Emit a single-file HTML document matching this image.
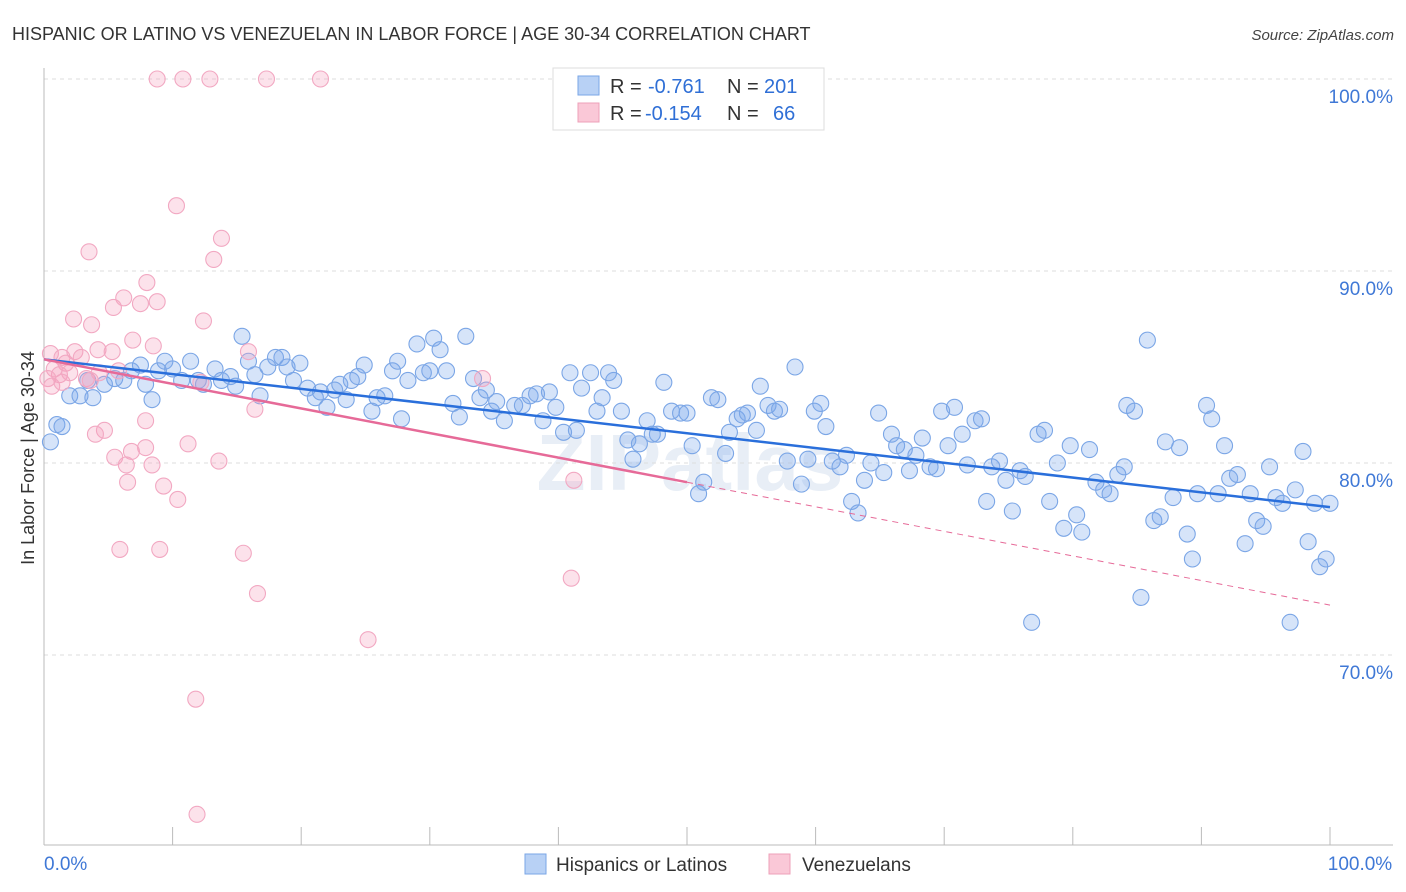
<!DOCTYPE html>
<html><head><meta charset="utf-8"><style>
body{margin:0;background:#fff;font-family:"Liberation Sans",sans-serif;}
svg{display:block}
</style></head><body>
<svg id="chart" width="1406" height="892" xmlns="http://www.w3.org/2000/svg">
<text x="12" y="40" font-size="18" fill="#333">HISPANIC OR LATINO VS VENEZUELAN IN LABOR FORCE | AGE 30-34 CORRELATION CHART</text>
<text x="1394" y="40" font-size="15" fill="#444" text-anchor="end" font-style="italic">Source: ZipAtlas.com</text>
<text transform="translate(34,458) rotate(-90)" font-size="18" fill="#333" text-anchor="middle">In Labor Force | Age 30-34</text>
<text x="690" y="490" font-size="80" fill="#e8eef6" text-anchor="middle" font-weight="bold">ZIPatlas</text>
<g id="grid"></g><g id="axes"></g><g id="pts"></g><g id="trends"></g>
<g>
<rect x="553" y="68" width="271" height="62" fill="#fff" stroke="#ddd"/>
<rect x="578" y="76" width="21" height="19" fill="#b8d1f5" stroke="#7aa6e6"/>
<rect x="578" y="103" width="21" height="19" fill="#fac8d7" stroke="#eea0b8"/>
<text x="610" y="93" font-size="20" fill="#333">R =</text>
<text x="648" y="93" font-size="20" fill="#2f6fd6">-0.761</text>
<text x="727" y="93" font-size="20" fill="#333">N =</text>
<text x="764" y="93" font-size="20" fill="#2f6fd6">201</text>
<text x="610" y="120" font-size="20" fill="#333">R =</text>
<text x="645" y="120" font-size="20" fill="#2f6fd6">-0.154</text>
<text x="727" y="120" font-size="20" fill="#333">N =</text>
<text x="773" y="120" font-size="20" fill="#2f6fd6">66</text>
</g>
<g>
<rect x="525" y="854" width="21" height="20" fill="#b8d1f5" stroke="#7aa6e6"/>
<text x="556" y="871" font-size="19" fill="#333">Hispanics or Latinos</text>
<rect x="769" y="854" width="21" height="20" fill="#fac8d7" stroke="#eea0b8"/>
<text x="802" y="871" font-size="19" fill="#333">Venezuelans</text>
</g>
</svg>
<script>
const yTicks=[100,90,80,70];
const yTickLabels=["100.0%","90.0%","80.0%","70.0%"];
const xTickLabels=["0.0%","100.0%"];
const blueX=[0.5,1,1.4,2,2.8,3.8,3.4,4.7,5.5,6.2,6.8,7.5,7.9,8.4,8.9,9.4,10,10.7,11.4,12,12.4,13.3,13.8,14.5,14.9,15.4,15.9,16.4,16.8,17.4,18,18.5,18.9,19.4,19.9,20.5,21.1,21.5,22,22.6,23,23.5,23.9,24.4,24.9,25.5,25.9,26.5,27.1,27.5,27.8,28.3,29,29.5,30,30.3,30.8,31.3,31.8,32.3,32.8,33.4,33.9,34.4,34.8,35.2,35.8,36.6,37.2,37.8,38.3,38.8,39.3,39.8,40.4,40.9,41.4,41.8,42.5,43,43.4,43.9,44.3,44.9,45.4,45.8,46.3,46.9,47.3,47.7,48.2,48.8,49.5,50,50.4,50.9,51.3,51.9,52.4,53,53.3,53.9,54.3,54.7,55.4,55.7,56.3,56.8,57.2,57.8,58.4,58.9,59.4,59.9,60.4,60.8,61.3,61.9,62.4,62.8,63.3,63.8,64.3,64.9,65.3,65.9,66.3,66.9,67.3,67.8,68.3,68.9,69.4,69.8,70.3,70.8,71.4,71.8,72.4,72.9,73.3,73.7,74.3,74.8,75.3,75.9,76.3,76.8,77.3,77.8,78.2,78.8,79.3,79.8,80.3,80.7,81.3,81.8,82.4,82.9,83.5,84,84.2,84.8,85.3,85.8,86.3,86.8,87.2,87.8,88.3,88.9,89.3,89.7,90.4,90.8,91.3,91.8,92.2,92.8,93.4,93.8,94.3,94.8,95.3,95.8,96.3,96.9,97.3,97.9,98.3,98.8,99.2,99.7,100];
const blueY=[81.1,82,81.9,83.5,83.5,83.4,84.3,84.1,84.4,84.3,84.8,85.1,84.1,83.3,84.8,85.3,84.9,84.3,85.3,84.3,84.1,84.9,84.3,84.5,84,86.6,85.3,84.6,83.5,85,85.5,85.5,85,84.3,85.2,83.9,83.4,83.7,82.9,83.8,84.1,83.3,84.3,84.5,85.1,82.7,83.4,83.5,84.8,85.3,82.3,84.3,86.2,84.7,84.8,86.5,85.9,84.8,83.1,82.4,86.6,84.4,83.4,83.8,82.7,83.2,82.2,83,83,83.5,83.6,82.2,83.7,82.9,81.6,84.7,81.7,83.9,84.7,82.7,83.4,84.7,84.3,82.7,81.2,80.2,81,82.2,81.5,81.5,84.2,82.7,82.6,82.6,80.9,78.4,79,83.4,83.3,80.5,81.6,82.3,82.5,82.6,81.7,84,83,82.7,82.8,80.1,85,78.9,80.2,82.7,83.1,81.9,80.1,79.8,80.4,78,77.4,79.1,80,82.6,79.5,81.5,80.9,80.7,79.6,80.4,81.3,79.8,79.7,82.7,80.9,82.9,81.5,79.9,82.2,82.3,78,79.8,80.1,79.1,77.5,79.6,79.3,71.7,81.5,81.7,78,80,76.6,80.9,77.3,76.4,80.7,79,78.6,78.4,79.4,79.8,83,82.7,73,86.4,77,77.2,81.1,78.2,80.8,76.3,75,78.4,83,82.3,78.4,80.9,79.2,79.4,75.8,78.4,77,76.7,79.8,78.2,77.9,71.7,78.6,80.6,75.9,77.9,74.6,75,77.9];
const pinkX=[8.8,10.8,12.9,17.3,21.5,10.3,13.8,3.5,13.2,8,6.2,7.5,8.8,5.4,2.3,3.7,12.4,6.9,8.5,4.2,5.3,15.9,0.5,1.4,2.4,2.9,1.7,0.8,1.2,0.3,2,3.3,4.3,5.8,0.6,1.4,3.6,12.2,34.1,16.4,7.9,4.7,4,11.2,7.9,6.8,5.5,6.4,8.4,13.6,6.5,9.3,10.4,41.2,5.9,9,15.5,41,16.6,25.2,11.8,11.9];
const pinkY=[100,100,100,100,100,93.4,91.7,91,90.6,89.4,88.6,88.3,88.4,88.1,87.5,87.2,87.4,86.4,86.1,85.9,85.8,85.8,85.7,85.5,85.8,85.5,85.2,84.9,84.6,84.4,84.7,84.4,84.7,84.8,84,84.2,84.3,84.2,84.4,82.8,82.2,81.7,81.5,81,80.8,80.6,80.3,79.9,79.9,80.1,79,78.8,78.1,79.1,75.5,75.5,75.3,74,73.2,70.8,67.7,61.7];
const blueTrend=[85.4,77.7];
const pinkTrend=[85.4,72.6];
const pinkSolidEnd=50;
const NS="http://www.w3.org/2000/svg";
const X=v=>44+v*12.86;
const Y=v=>79+(100-v)*19.2;
function mk(parent,tag,attrs){const e=document.createElementNS(NS,tag);for(const k in attrs)e.setAttribute(k,attrs[k]);document.getElementById(parent).appendChild(e);return e;}
yTicks.forEach((t,i)=>{
 const l=mk('grid','line',{x1:44,x2:1393,y1:Y(t),y2:Y(t),stroke:'#ddd','stroke-dasharray':'4,4'});
 
 
 const tx=mk('grid','text',{x:1393,y:Y(t)+24,'font-size':19,fill:'#3f78d6','text-anchor':'end'});
 tx.textContent=yTickLabels[i];
 
 
});
let ax=mk('axes','line',{x1:44,x2:44,y1:68,y2:845,stroke:'#bbb'});


ax=mk('axes','line',{x1:44,x2:1393,y1:845,y2:845,stroke:'#bbb'});


for(let i=0;i<=10;i++){const t=mk('axes','line',{x1:X(i*10),x2:X(i*10),y1:827,y2:845,stroke:'#bbb'});
 
 }
[[0,'start'],[100,'middle']].forEach((a,i)=>{const t=mk('axes','text',{x:i?1360:44,y:870,'font-size':19,fill:'#3f78d6','text-anchor':a[1]});t.textContent=xTickLabels[i];
 
 });
function dots(xs,ys,fill,stroke,name){xs.forEach((x,i)=>{const c=mk('pts','circle',{cx:X(x),cy:Y(ys[i]),r:8,fill:fill,stroke:stroke,'stroke-width':1.1});
 
 });}
dots(blueX,blueY,'rgba(120,165,235,0.3)','#7ba6e6','hispanic-point');
dots(pinkX,pinkY,'rgba(245,160,190,0.3)','#f2a8c2','venezuelan-point');
const lineAt=(tr,x)=>tr[0]+(tr[1]-tr[0])*x/100;
let t=mk('trends','line',{x1:X(0),y1:Y(lineAt(blueTrend,0)),x2:X(100),y2:Y(lineAt(blueTrend,100)),stroke:'#2a6fdb','stroke-width':2.5});


t=mk('trends','line',{x1:X(0),y1:Y(lineAt(pinkTrend,0)),x2:X(pinkSolidEnd),y2:Y(lineAt(pinkTrend,pinkSolidEnd)),stroke:'#e66a98','stroke-width':2.5});


t=mk('trends','line',{x1:X(pinkSolidEnd),y1:Y(lineAt(pinkTrend,pinkSolidEnd)),x2:X(100),y2:Y(lineAt(pinkTrend,100)),stroke:'#e66a98','stroke-width':1,'stroke-dasharray':'6,5'});


</script>
</body></html>
